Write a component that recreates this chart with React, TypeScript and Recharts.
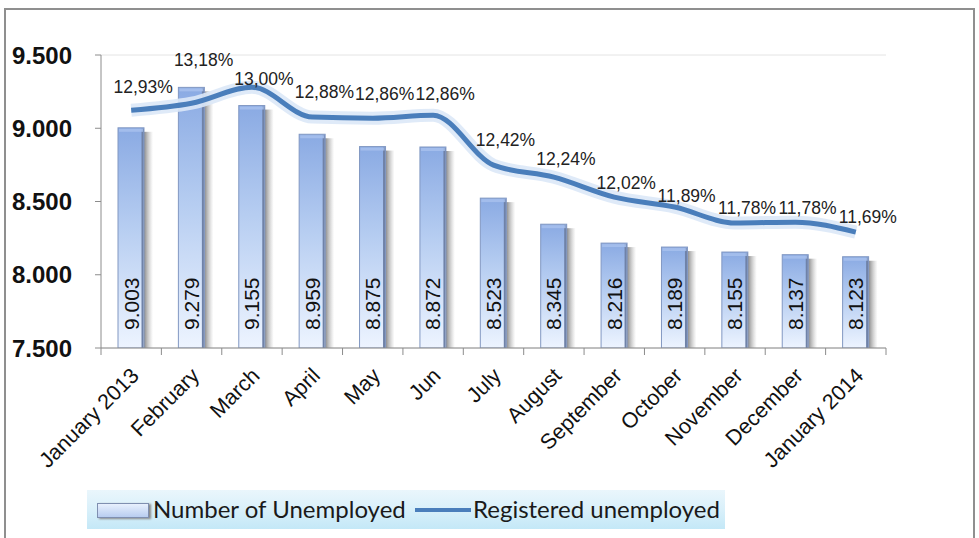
import React from "react";
import {
  ComposedChart,
  Bar,
  Line,
  XAxis,
  YAxis,
  CartesianGrid,
  LabelList,
} from "recharts";

const months = [
  "January 2013",
  "February",
  "March",
  "April",
  "May",
  "Jun",
  "July",
  "August",
  "September",
  "October",
  "November",
  "December",
  "January 2014",
];
const unemployed = [9003, 9279, 9155, 8959, 8875, 8872, 8523, 8345, 8216, 8189, 8155, 8137, 8123];
const registeredLine = [9123, 9171, 9280, 9076, 9069, 9089, 8748, 8666, 8530, 8462, 8353, 8359, 8291];
const registeredPct = [12.93, 13.18, 13.0, 12.88, 12.86, 12.86, 12.42, 12.24, 12.02, 11.89, 11.78, 11.78, 11.69];
const yTicks = [7500, 8000, 8500, 9000, 9500];

const data = months.map((m, i) => ({
  month: m,
  unemployed: unemployed[i],
  registered: registeredLine[i],
  pct: registeredPct[i],
}));

const W = 979;
const H = 538;
const PLOT_LEFT = 101;
const PLOT_RIGHT = 886;
const PLOT_TOP = 55;
const PLOT_BOTTOM = 348;
const BAND = (PLOT_RIGHT - PLOT_LEFT) / months.length;

const fmtThousands = (v: number) => String(v).replace(/\B(?=(\d{3})+(?!\d))/g, ".");
const fmtPct = (v: number) => v.toFixed(2).replace(".", ",") + "%";

const ARIAL = "'Liberation Sans', Arial, sans-serif";

const BarShape = (props: any) => {
  const { x, y, width, height } = props;
  if (height <= 0) return null;
  return (
    <g>
      <rect x={x + width - 1} y={y + 4} width={10} height={height - 4} fill="url(#barShadow)" />
      <rect x={x} y={y} width={width} height={height} fill="url(#barGrad)" stroke="#8298c2" strokeWidth={1} />
      <line x1={x + width - 1.5} y1={y + 1} x2={x + width - 1.5} y2={y + height} stroke="#6f82a8" strokeWidth={2} />
      <rect x={x + 1} y={y + 1} width={width - 2} height={3} fill="#a9c2ee" opacity={0.8} />
    </g>
  );
};

const BarValueLabel = (props: any) => {
  const { x, y, width, height, value } = props;
  const cx = x + width / 2;
  const by = y + height - 18;
  return (
    <text
      x={cx}
      y={by}
      transform={`rotate(-90, ${cx}, ${by})`}
      textAnchor="start"
      dominantBaseline="central"
      fontSize={21}
      fontFamily={ARIAL}
      fill="#111"
    >
      {fmtThousands(value)}
    </text>
  );
};

const PctLabel = (props: any) => {
  const { x, y, value } = props;
  return (
    <text
      x={x + 12}
      y={y}
      textAnchor="middle"
      dominantBaseline="central"
      fontSize={17.5}
      fontFamily={ARIAL}
      fill="#222"
    >
      {fmtPct(value)}
    </text>
  );
};

const XTick = (props: any) => {
  const { x, index, payload } = props;
  const y0 = PLOT_BOTTOM;
  const left = x - BAND / 2;
  const right = x + BAND / 2;
  return (
    <g>
      <line x1={left} y1={y0} x2={left} y2={y0 + 7} stroke="#8c8c8c" strokeWidth={1} />
      {index === months.length - 1 && (
        <line x1={right} y1={y0} x2={right} y2={y0 + 7} stroke="#8c8c8c" strokeWidth={1} />
      )}
      <text
        x={0}
        y={0}
        transform={`translate(${x + 4}, ${y0 + 24}) rotate(-45)`}
        textAnchor="end"
        dominantBaseline="central"
        fontSize={21.5}
        fontFamily={ARIAL}
        fill="#111"
      >
        {payload.value}
      </text>
    </g>
  );
};

const YTick = (props: any) => {
  const { x, y, payload } = props;
  return (
    <text
      x={x}
      y={y}
      textAnchor="end"
      dominantBaseline="central"
      fontSize={24}
      fontWeight="bold"
      fontFamily={ARIAL}
      fill="#111"
    >
      {fmtThousands(payload.value)}
    </text>
  );
};

const LegendBox = () => (
  <div
    style={{
      position: "absolute",
      left: 87,
      top: 490,
      width: 638,
      height: 39,
      background: "linear-gradient(to bottom, #eaf6fc 0%, #d9f0fa 50%, #c4e8f7 100%)",
      fontFamily: "Lato, 'Open Sans', sans-serif",
      fontSize: 24,
      lineHeight: "28px",
      color: "#1a1a1a",
    }}
  >
    <div
      style={{
        position: "absolute",
        left: 10,
        top: 13,
        width: 50,
        height: 13,
        background: "linear-gradient(to bottom, #e8f0fd, #b8cdf0)",
        border: "1px solid #7f8fb0",
        boxShadow: "2px 1px 2px #888",
      }}
    />
    <div style={{ position: "absolute", left: 66, top: 5, whiteSpace: "nowrap" }}>Number of Unemployed</div>
    <div
      style={{
        position: "absolute",
        left: 328,
        top: 18,
        width: 56,
        height: 4,
        background: "#4a7ebb",
      }}
    />
    <div style={{ position: "absolute", left: 386, top: 5, whiteSpace: "nowrap" }}>Registered unemployed</div>
  </div>
);

export default function App() {
  return (
    <div style={{ position: "absolute", left: 0, top: 0, width: W, height: H, overflow: "hidden", background: "#fff" }}>
      <div
        style={{
          position: "absolute",
          left: 4,
          top: 8,
          width: 967,
          height: 560,
          border: "2px solid #8f8f8f",
        }}
      />
      <div style={{ position: "absolute", left: 0, top: 0 }}>
        <ComposedChart
          width={W}
          height={H}
          data={data}
          margin={{ top: PLOT_TOP, right: W - PLOT_RIGHT, bottom: H - PLOT_BOTTOM - 150, left: 0 }}
          barCategoryGap={0}
        >
          <defs>
            <linearGradient id="barGrad" x1="0" y1="0" x2="0" y2="1">
              <stop offset="0%" stopColor="#8aaae3" />
              <stop offset="45%" stopColor="#b6cdf1" />
              <stop offset="100%" stopColor="#edf4ff" />
            </linearGradient>
            <linearGradient id="barShadow" x1="0" y1="0" x2="1" y2="0">
              <stop offset="0%" stopColor="#555" stopOpacity={0.8} />
              <stop offset="100%" stopColor="#999" stopOpacity={0} />
            </linearGradient>
          </defs>
          <CartesianGrid horizontal vertical={false} stroke="#e4e4e4" />
          <XAxis
            dataKey="month"
            interval={0}
            height={150}
            tickLine={false}
            axisLine={{ stroke: "#8c8c8c" }}
            tick={<XTick />}
          />
          <YAxis
            yAxisId="left"
            width={PLOT_LEFT}
            domain={[7500, 9500]}
            ticks={yTicks}
            allowDataOverflow
            axisLine={{ stroke: "#8c8c8c" }}
            tickLine={{ stroke: "#8c8c8c" }}
            tickSize={6}
            tickMargin={23}
            tick={<YTick />}
          />
          <YAxis yAxisId="pct" orientation="right" hide domain={[10.45, 13.23]} allowDataOverflow />
          <Bar
            yAxisId="left"
            dataKey="unemployed"
            name="Number of Unemployed"
            barSize={26}
            shape={<BarShape />}
            isAnimationActive={false}
          >
            <LabelList dataKey="unemployed" content={<BarValueLabel />} />
          </Bar>
          <Line
            yAxisId="left"
            dataKey="registered"
            type="monotone"
            stroke="#dbe8f7"
            strokeWidth={13}
            strokeOpacity={0.9}
            dot={false}
            activeDot={false}
            legendType="none"
            isAnimationActive={false}
          />
          <Line
            yAxisId="left"
            dataKey="registered"
            name="Registered unemployed"
            type="monotone"
            stroke="#4a7ebb"
            strokeWidth={5}
            dot={false}
            activeDot={false}
            isAnimationActive={false}
          />
          <Line
            yAxisId="pct"
            dataKey="pct"
            stroke="none"
            dot={false}
            activeDot={false}
            legendType="none"
            isAnimationActive={false}
          >
            <LabelList dataKey="pct" content={<PctLabel />} />
          </Line>
        </ComposedChart>
      </div>
      <LegendBox />
    </div>
  );
}
